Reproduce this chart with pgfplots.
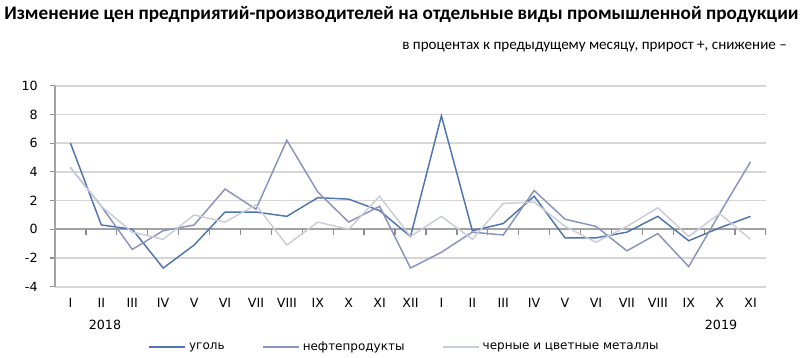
\documentclass[border=0pt]{standalone}
\usepackage{pgfplots}
\pgfplotsset{compat=1.18}
\usepackage{fontspec}
\setmainfont{DejaVu Sans}
\newfontfamily\titlefont{Carlito}
\definecolor{coal}{HTML}{5074AE}
\definecolor{oil}{HTML}{8A93BD}
\definecolor{metal}{HTML}{C9CDD8}
\definecolor{gridc}{HTML}{D6D6D6}
\definecolor{axc}{HTML}{A3A3A3}
\definecolor{tickc}{HTML}{8E8E8E}
\begin{document}
\begin{tikzpicture}
\begin{axis}[
  scale only axis,
  width=533.25pt, height=150.75pt,
  xmin=-0.5, xmax=22.5, ymin=-4, ymax=10,
  ytick={-4,-2,0,2,4,6,8,10},
  xtick={0,...,22},
  xticklabels={I,II,III,IV,V,VI,VII,VIII,IX,X,XI,XII,I,II,III,IV,V,VI,VII,VIII,IX,X,XI},
  axis x line*=bottom, axis y line*=left,
  x axis line style={draw=none},
  y axis line style={draw=axc, line width=0.9pt, -},
  ymajorgrids, grid style={gridc, line width=1.2pt},
  major x tick style={draw=none},
  ytick style={draw=tickc, line width=0.8pt},
  tick align=outside, major tick length=3.5pt,
  ticklabel style={font=\fontsize{9.5}{10}\selectfont},
  xticklabel style={yshift=-2pt},
  yticklabel style={xshift=-6pt},
  /pgf/number format/assume math mode=true,
  legend style={at={(0.492,-0.30)}, anchor=center, draw=none, fill=none,
    legend columns=3, font=\fontsize{9}{10}\selectfont,
    /tikz/every even column/.append style={column sep=26pt}},
  legend image code/.code={\draw[#1, line width=1.6pt] (0pt,0pt) -- (27pt,0pt);},
  legend cell align=left,
]
\draw[axc, line width=1.3pt] (axis cs:-0.5,0) -- (axis cs:22.5,0);
\foreach \t in {0.5,1.5,2.5,3.5,4.5,5.5,6.5,7.5,8.5,9.5,10.5,11.5,12.5,13.5,14.5,15.5,16.5,17.5,18.5,19.5,20.5,21.5,22.5}{
  \edef\tmp{\noexpand\draw[tickc, line width=1pt] (axis cs:\t,0) -- (axis cs:\t,-0.38);}\tmp}
\addplot[coal, line width=1.1pt, no markers] coordinates {
(0,6.0) (1,0.3) (2,0.0) (3,-2.7) (4,-1.1) (5,1.2) (6,1.2) (7,0.9) (8,2.2) (9,2.1) (10,1.3) (11,-0.5)
(12,7.9) (13,-0.1) (14,0.4) (15,2.3) (16,-0.6) (17,-0.6) (18,-0.2) (19,0.9) (20,-0.8) (21,0.1) (22,0.9)};
\addlegendentry{уголь}
\addplot[oil, line width=1.1pt, no markers] coordinates {
(0,4.3) (1,1.6) (2,-1.4) (3,-0.1) (4,0.3) (5,2.8) (6,1.4) (7,6.2) (8,2.6) (9,0.5) (10,1.6) (11,-2.7)
(12,-1.6) (13,-0.2) (14,-0.4) (15,2.7) (16,0.7) (17,0.2) (18,-1.5) (19,-0.3) (20,-2.6) (21,1.1) (22,4.7)};
\addlegendentry{нефтепродукты}
\addplot[metal, line width=1.1pt, no markers] coordinates {
(0,4.3) (1,1.6) (2,-0.2) (3,-0.7) (4,1.0) (5,0.5) (6,1.7) (7,-1.1) (8,0.5) (9,0.0) (10,2.3) (11,-0.5)
(12,0.9) (13,-0.7) (14,1.8) (15,1.9) (16,0.2) (17,-0.9) (18,0.2) (19,1.5) (20,-0.5) (21,1.1) (22,-0.7)};
\addlegendentry{черные и цветные металлы}
\end{axis}
\begin{scope}[x=0.75pt,y=0.75pt,shift={(-55,-69.3)}]
\path[use as bounding box] (0,0) rectangle (800,356);
\node[anchor=west, inner sep=0pt, font=\titlefont\bfseries\fontsize{14.4}{16}\selectfont] at (4,342) {Изменение цен предприятий-производителей на отдельные виды промышленной продукции};
\node[anchor=east, inner sep=0pt, font=\titlefont\fontsize{11.3}{12}\selectfont] at (787,309) {в процентах к предыдущему месяцу, прирост +, снижение –};
\node[font=\fontsize{9.5}{11}\selectfont] at (105,31) {2018};
\node[font=\fontsize{9.5}{11}\selectfont] at (721,31) {2019};
\end{scope}
\end{tikzpicture}
\end{document}
